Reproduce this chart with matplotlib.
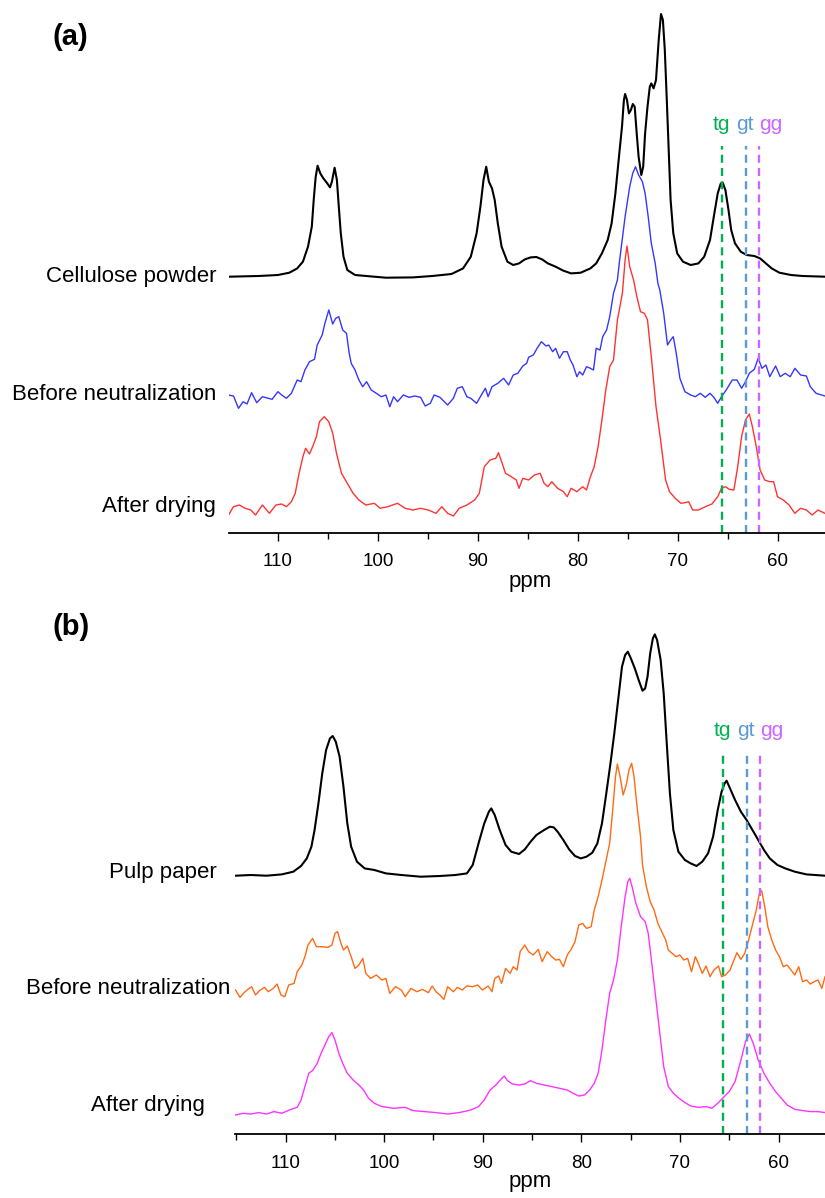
import matplotlib
matplotlib.use("Agg")
import matplotlib.pyplot as plt
from matplotlib.ticker import MultipleLocator

plt.rcParams['font.family'] = ['Liberation Sans', 'DejaVu Sans']

# ---------------- data: (ppm, intensity) ----------------
a_cellulose_powder = [(114.95, 0), (111.94, 0.7), (110.01, 1.7), (108.86, 4), (108.08, 8.3), (107.51, 15), (107.0, 30), (106.62, 50), (106.43, 76.7), (106.23, 100),
    (106.04, 111), (105.77, 103.3), (105.46, 98.3), (105.07, 93.3), (104.80, 89.3), (104.61, 95), (104.34, 109), (104.11, 96.7), (103.92, 70), (103.72, 43.3),
    (103.45, 20), (103.07, 6.7), (102.30, 1.7), (100.37, 0), (99.21, -1), (96.51, -0.7), (94.58, 0.7), (92.65, 2.7), (91.49, 8.3), (90.72, 20),
    (90.14, 43.3), (89.76, 70), (89.45, 96.7), (89.18, 110), (88.91, 95), (88.60, 88.3), (88.33, 76.7), (88.02, 53.3), (87.64, 30), (87.06, 15),
    (86.48, 11.7), (85.90, 13.3), (85.32, 17.3), (84.74, 19.3), (84.16, 19.7), (83.59, 17.3), (83.01, 13.3), (82.24, 10), (81.46, 6), (80.69, 3.3),
    (79.73, 4), (78.76, 8.3), (78.18, 13.3), (77.61, 23.3), (77.03, 36.7), (76.64, 53.3), (76.26, 83.3), (75.87, 123.3), (75.60, 150), (75.41, 176.7),
    (75.29, 182.7), (75.10, 176.7), (74.91, 163.3), (74.71, 166.7), (74.52, 172.7), (74.33, 170), (74.13, 143.3), (73.94, 120), (73.67, 101.7), (73.48, 110),
    (73.29, 143.3), (73.05, 170), (72.82, 190), (72.67, 193.3), (72.44, 188.3), (72.20, 196.7), (71.93, 236.7), (71.70, 262.7), (71.51, 256.7), (71.32, 226.7),
    (71.12, 176.7), (70.93, 126.7), (70.74, 76.7), (70.47, 43.3), (70.08, 23.3), (69.50, 15), (68.73, 11.7), (67.96, 13.3), (67.38, 20), (66.80, 36.7),
    (66.42, 60), (66.03, 83.3), (65.72, 93.3), (65.53, 94), (65.26, 86.7), (64.95, 66.7), (64.68, 46.7), (64.30, 33.3), (63.72, 25), (63.14, 21.7),
    (62.37, 20.7), (61.79, 18.3), (61.21, 13.3), (60.63, 8.3), (59.86, 4), (58.70, 1.7), (57.54, 0.7), (55.31, 0)]

a_before_neutralization = [(114.95, 2), (114.45, 1), (113.95, -11.3), (113.49, -4.7), (113.10, -7), (112.64, 4.3), (112.13, -5.7), (111.56, 0.3), (110.98, -1.3), (110.59, -2.3),
    (110.01, 5.3), (109.63, 2), (109.16, -1.3), (108.66, 3.7), (108.08, 17), (107.70, 15.3), (107.31, 27), (106.85, 35.3), (106.35, 37.7), (106.08, 52),
    (105.58, 62), (105.31, 73.7), (104.92, 87), (104.53, 73), (104.23, 78.7), (103.92, 80.3), (103.53, 67), (103.15, 63.7), (102.88, 43.7), (102.68, 33.7),
    (102.30, 27), (101.91, 17), (101.53, 10.3), (101.14, 15.3), (100.68, 7), (100.17, 3.7), (99.67, 0.3), (99.21, 2), (98.82, -9.7), (98.44, 0.3),
    (98.05, -4.7), (97.47, 2), (96.90, -0.3), (96.32, 1), (95.74, -0.3), (95.28, -9), (94.77, -6.3), (94.39, 2), (93.81, -0.3), (93.04, -8),
    (92.46, -1.3), (92.07, 8.7), (91.57, 10.3), (91.11, 0.3), (90.72, -1.3), (90.14, -6.3), (89.57, 3.7), (89.26, 8.7), (88.99, 0.3), (88.60, 10.3),
    (88.02, 13.7), (87.44, 18.7), (86.94, 12), (86.48, 22), (86.02, 23.7), (85.52, 31), (85.13, 33.7), (84.94, 39.7), (84.47, 42), (84.09, 48.7),
    (83.66, 55.3), (83.20, 51), (82.93, 52), (82.54, 45.3), (82.24, 48.7), (81.85, 38.7), (81.46, 45.3), (81.08, 45.3), (80.77, 37), (80.50, 32),
    (80.11, 20.3), (79.84, 25.3), (79.53, 22), (79.15, 30.3), (78.76, 28.7), (78.45, 27), (78.18, 48.7), (77.80, 47), (77.53, 60.3), (77.14, 67),
    (76.83, 80.3), (76.53, 98.7), (76.45, 103.7), (76.06, 117), (75.87, 134), (75.29, 180.3), (74.83, 210.3), (74.52, 224), (74.25, 230.3), (73.94, 222),
    (73.56, 215.3), (73.29, 203.7), (72.98, 180.3), (72.67, 153.7), (72.28, 133.7), (72.01, 113.7), (71.82, 107), (71.43, 83.7), (71.05, 52), (70.74, 57),
    (70.47, 60.3), (70.20, 45.3), (69.81, 18.7), (69.31, 5.3), (68.73, 2), (68.27, 0.3), (67.77, 3.7), (67.27, -0.3), (66.80, 3.7), (66.42, -0.3),
    (66.03, -6.3), (65.65, 0.3), (65.18, 7), (64.57, 17), (64.10, 17), (63.64, 8.7), (63.25, 15.3), (62.87, 23.7), (62.37, 27.7), (61.98, 38.7),
    (61.60, 28.7), (61.21, 32), (60.82, 20.3), (60.24, 31), (59.78, 20.3), (59.28, 23.7), (58.78, 20.3), (58.31, 28.7), (57.74, 22), (57.16, 21),
    (56.77, 10.3), (56.19, 3.7), (55.31, 1)]

a_after_drying = [(114.95, -7), (114.45, 1.3), (113.87, 3), (113.29, -0.3), (112.71, -2), (112.25, -7), (111.56, 3), (110.86, -5.3), (110.21, 3), (109.63, 4),
    (109.16, 1.3), (108.66, 6.3), (108.28, 14.7), (107.89, 34.7), (107.51, 51.3), (107.24, 59.7), (106.85, 54), (106.54, 61.3), (106.16, 71.3), (105.85, 86.3),
    (105.38, 91.3), (104.92, 86.3), (104.53, 74.7), (104.15, 54.7), (103.65, 34.7), (103.07, 24.7), (102.49, 14.7), (101.91, 8), (101.22, 3), (100.37, 4.7),
    (99.79, -0.3), (99.02, 1.3), (98.05, 4.7), (97.28, -0.3), (96.51, -2), (95.74, -0.3), (94.97, -2), (94.20, -5.3), (93.62, 1.3), (93.04, -5.3),
    (92.46, -8), (91.88, -0.3), (91.11, 3), (90.34, 8), (89.87, 14.7), (89.37, 41.3), (88.79, 48), (88.22, 49.7), (87.95, 55.3), (87.64, 46.3),
    (87.25, 34.7), (86.67, 31.3), (86.17, 28), (85.90, 19.7), (85.52, 29.7), (84.94, 28), (84.36, 33), (83.78, 34.7), (83.39, 24.7), (83.01, 21.3),
    (82.62, 26.3), (82.04, 19.7), (81.46, 16.3), (81.08, 11.3), (80.69, 19.7), (80.11, 16.3), (79.53, 21.3), (79.15, 18), (78.76, 31.3), (78.38, 41.3),
    (77.99, 61.3), (77.61, 88), (77.22, 118), (76.83, 141.3), (76.45, 148), (76.06, 188), (75.56, 214.7), (75.29, 248), (75.10, 262), (74.83, 241.3),
    (74.44, 228), (74.13, 212), (73.75, 196.3), (73.36, 194.7), (73.05, 188), (72.67, 151.3), (72.20, 101.3), (71.74, 68), (71.24, 28), (70.85, 16.3),
    (70.28, 9.7), (69.70, 4.7), (69.31, 5.3), (68.93, 6.3), (68.54, -2), (67.96, -2), (67.27, 1.3), (66.61, 4), (66.03, 11.3), (65.65, 19.7),
    (65.26, 21.3), (64.87, 18.7), (64.41, 18), (64.03, 41.3), (63.64, 71.3), (63.25, 88), (62.87, 94), (62.56, 81.3), (62.17, 61.3), (61.79, 38),
    (61.33, 28), (60.82, 26.3), (60.44, 26.3), (60.05, 11.3), (59.47, 8), (58.89, 3), (58.32, -5.3), (57.74, -0.3), (57.16, -2), (56.58, -7),
    (56.00, -2), (55.31, -5.3)]

b_pulp_paper = [(115.08, 0), (113.52, 0.7), (111.95, 0), (110.39, 1.3), (109.22, 4), (108.43, 9.7), (107.85, 17.3), (107.38, 29), (107.06, 45.7), (106.67, 72.3),
    (106.28, 102.3), (105.89, 125.7), (105.50, 137.3), (105.22, 139.7), (104.91, 134), (104.52, 119), (104.13, 89), (103.74, 52.3), (103.35, 29), (102.76, 14),
    (101.98, 7.3), (101.0, 5.7), (99.82, 2.3), (98.26, 0.7), (96.30, -1), (94.35, -0.3), (92.78, 0.7), (91.61, 2.3), (91.02, 10.7), (90.43, 32.3),
    (89.85, 52.3), (89.38, 64), (89.14, 67.3), (88.79, 60.7), (88.28, 45.7), (87.69, 30.7), (87.11, 24), (86.32, 21.7), (85.74, 26.3), (85.15, 34),
    (84.56, 40.7), (83.78, 45.7), (83.19, 49), (82.80, 48.3), (82.41, 44), (81.83, 35.7), (81.24, 26.3), (80.65, 19.7), (80.06, 17.3), (79.48, 19),
    (78.89, 23), (78.38, 32.3), (77.91, 52.3), (77.52, 79), (77.05, 112.3), (76.66, 142.3), (76.27, 175.7), (75.88, 209), (75.56, 220.7), (75.29, 224),
    (74.98, 217.3), (74.58, 207.3), (74.19, 195.7), (73.80, 185), (73.53, 187.3), (73.29, 199), (73.02, 222.3), (72.75, 237.3), (72.55, 241.3), (72.32, 235.7),
    (71.96, 215.7), (71.65, 182.3), (71.34, 132.3), (71.02, 82.3), (70.67, 45.7), (70.16, 24), (69.50, 15.7), (68.91, 12.3), (68.32, 9.7), (67.74, 14),
    (67.15, 22.3), (66.64, 39), (66.17, 65.7), (65.78, 84), (65.47, 92.3), (65.27, 95), (65.00, 89), (64.41, 75.7), (63.82, 64), (63.24, 55.7),
    (62.65, 45.7), (62.06, 35.7), (61.48, 25.7), (60.89, 17.3), (60.11, 10.7), (59.32, 7.3), (58.35, 4), (57.17, 1.3), (55.29, 0)]

b_before_neutralization = [(115.08, 1.7), (114.62, -5.7), (114.22, -1), (113.83, 2.3), (113.44, 5), (113.05, -3.3), (112.66, 1), (112.15, 4.3), (111.76, 0), (111.25, 3.3),
    (110.86, 7.7), (110.47, -3.3), (110.08, -5), (109.68, 6.7), (109.14, 8.3), (108.82, 20), (108.35, 26.7), (108.04, 35), (107.73, 46.7), (107.26, 53.3),
    (106.87, 45), (106.28, 45), (105.69, 44.3), (105.30, 46.7), (104.99, 58.3), (104.72, 60), (104.44, 50), (104.13, 41.7), (103.74, 45.7), (103.35, 35),
    (102.96, 23.3), (102.56, 26.7), (102.17, 33.3), (101.86, 18.3), (101.39, 13.3), (100.80, 16.7), (100.22, 11.7), (99.83, 13.3), (99.43, -1.7), (98.85, 5),
    (98.26, 1.7), (97.87, -5), (97.28, 3.3), (96.69, 0), (96.11, 2.3), (95.52, -1), (95.13, 5.7), (94.74, 0), (94.35, -3.3), (93.95, -7.7),
    (93.56, 5), (92.98, 0), (92.58, 4.3), (92.08, 1.7), (91.61, 5.7), (91.02, 5), (90.51, 6.7), (90.04, 1.7), (89.45, 5.7), (89.06, 0),
    (88.79, 13.3), (88.40, 15.7), (88.09, 8.3), (87.69, 23.3), (87.22, 18.3), (86.91, 25), (86.52, 21.7), (86.21, 40), (85.74, 46.7), (85.35, 40),
    (84.88, 36.7), (84.37, 42.3), (83.98, 30), (83.47, 40), (83.00, 35), (82.61, 31.7), (82.22, 32.3), (81.83, 25), (81.43, 36.7), (81.04, 42.3),
    (80.65, 50), (80.26, 66.7), (79.87, 68.3), (79.48, 63.3), (79.01, 65), (78.69, 81.7), (78.30, 95), (77.91, 111.7), (77.52, 130), (77.13, 148.4),
    (76.82, 181.7), (76.54, 215), (76.35, 227.7), (76.07, 215), (75.76, 196.7), (75.45, 206.7), (75.17, 221.7), (74.90, 228.4), (74.66, 215), (74.39, 188.4),
    (74.00, 155), (73.80, 126.7), (73.41, 105), (73.02, 90), (72.63, 81.7), (72.24, 68.3), (71.85, 60), (71.45, 51.7), (71.18, 41.7), (70.79, 38.3),
    (70.40, 35), (70.01, 36.7), (69.61, 31.7), (69.22, 33.3), (68.83, 20), (68.44, 35), (68.13, 28.3), (67.74, 18.3), (67.35, 25.7), (66.95, 15),
    (66.56, 21.7), (66.09, 25.7), (65.78, 15), (65.39, 16.7), (64.92, 21.7), (64.53, 31.7), (64.22, 39), (63.82, 32.3), (63.43, 38.3), (63.04, 51.7),
    (62.65, 66.7), (62.26, 81.7), (61.95, 98.3), (61.71, 101), (61.40, 85), (61.09, 65), (60.69, 51.7), (60.30, 41.7), (59.91, 35), (59.52, 25),
    (59.13, 26.7), (58.74, 21.7), (58.35, 16.7), (57.96, 25), (57.56, 10), (57.17, 11.7), (56.78, 7.7), (56.39, 10), (56.00, 11.7), (55.61, 3.3),
    (55.29, 15)]

b_after_drying = [(115.08, -1.7), (114.30, 0), (113.52, -0.7), (112.74, 0.7), (111.95, -0.7), (111.17, 1.7), (110.39, 0), (109.61, 3.3), (108.82, 6), (108.43, 13.3),
    (108.04, 26.7), (107.65, 40), (107.26, 42.7), (106.79, 50), (106.40, 60), (106.01, 68.3), (105.62, 76.7), (105.30, 80.7), (104.99, 73.3), (104.60, 60),
    (104.21, 50), (103.74, 40), (103.15, 33.3), (102.56, 28.3), (102.09, 23.3), (101.58, 15), (101.0, 10), (100.22, 6.7), (99.04, 5), (97.87, 6),
    (97.08, 2.7), (95.91, 1.7), (94.74, 0.7), (93.56, -0.7), (92.39, 0.7), (91.22, 3.3), (90.43, 6.7), (89.85, 13.3), (89.26, 23.3), (88.67, 28.3),
    (88.16, 34), (87.81, 37.3), (87.50, 32.7), (86.99, 29.3), (86.32, 28.3), (85.74, 29.3), (85.15, 32.7), (84.56, 30), (83.78, 28.3), (83.00, 26.7),
    (82.22, 25), (81.43, 23.3), (80.85, 20), (80.26, 17.3), (79.67, 18.3), (79.16, 23.3), (78.69, 30), (78.30, 40), (77.91, 63.3), (77.52, 93.3),
    (77.13, 120), (76.74, 133.3), (76.35, 153.3), (75.96, 186.7), (75.56, 216.7), (75.29, 231.7), (75.09, 235), (74.86, 226.7), (74.47, 210), (74.00, 196.7),
    (73.53, 191.7), (73.22, 180), (72.90, 153.3), (72.51, 120), (72.12, 86.7), (71.65, 46.7), (71.18, 26.7), (70.67, 20), (70.09, 15), (69.50, 10.7),
    (68.91, 7.3), (68.13, 6), (67.35, 6.7), (66.76, 5), (66.17, 10), (65.58, 16), (65.00, 21.7), (64.41, 31.7), (63.82, 53.3), (63.35, 71.7),
    (62.96, 79.3), (62.57, 70), (62.06, 53.3), (61.48, 40), (60.89, 30), (60.30, 21.7), (59.72, 15), (59.13, 8.3), (58.35, 4), (57.56, 2.7),
    (56.78, 1.7), (56.00, 1.7), (55.29, 0.7)]

labels_a = ["Cellulose powder", "Before neutralization", "After drying"]
labels_b = ["Pulp paper", "Before neutralization", "After drying"]
conformer_names = ["tg", "gt", "gg"]
conformer_ppm = [65.6, 63.2, 61.9]
x_ticks = [110, 100, 90, 80, 70, 60]

# ---------------- layout / style ----------------
W, H = 825, 1198
fig = plt.figure(figsize=(W / 100, H / 100), dpi=100)


def box(x0, y0, x1, y1):
    return [x0 / W, 1 - y1 / H, (x1 - x0) / W, (y1 - y0) / H]


conf_colors = ["#00b050", "#5b9bd5", "#cc66ff"]
conf_label_dx = [0.05, 0.15, -1.2]

panels = [
    dict(rect=(228.5, 5, 825, 532.5), xlim=(114.95, 55.3),
         series=[a_cellulose_powder, a_before_neutralization, a_after_drying],
         colors=["black", "#3636ff", "#ff3333"], lws=[1.5, 1.0, 1.0],
         offsets=[255.8, 135.5, 24.5], labels=labels_a,
         label_y=[276.7, 394, 506.7], label_x=[217, 216, 216],
         dash_top=386.5, conf_label_y=407.5, tag="(a)", tag_y=37, ppm_y=581),
    dict(rect=(235.4, 605, 825, 1134), xlim=(115.09, 55.29),
         series=[b_pulp_paper, b_before_neutralization, b_after_drying],
         colors=["black", "#ff6a13", "#ff33ff"], lws=[1.5, 1.0, 1.0],
         offsets=[258.3, 142.3, 20.7], labels=labels_b,
         label_y=[872.7, 988.3, 1105], label_x=[217, 230, 205],
         dash_top=381, conf_label_y=404, tag="(b)", tag_y=627, ppm_y=1182),
]

for p in panels:
    x0, y0, x1, y1 = p["rect"]
    ax = fig.add_axes(box(x0, y0, x1, y1))
    ax.set_xlim(*p["xlim"])
    ax.set_ylim(0, y1 - y0)
    for data, c, lw, off in zip(p["series"], p["colors"], p["lws"], p["offsets"]):
        xs = [d[0] for d in data]
        ys = [off + d[1] for d in data]
        ax.plot(xs, ys, color=c, lw=lw, solid_joinstyle="round")
    for name, ppm, c, dx in zip(conformer_names, conformer_ppm, conf_colors, conf_label_dx):
        ax.plot([ppm, ppm], [0, p["dash_top"]], color=c, lw=1.7, dashes=(3.4, 2.2))
        ax.text(ppm + dx, p["conf_label_y"], name, color=c, fontsize=15,
                ha="center", va="center")
    for s in ["left", "right", "top"]:
        ax.spines[s].set_visible(False)
    ax.spines["bottom"].set_linewidth(1.3)
    ax.set_yticks([])
    ax.set_xticks(x_ticks)
    ax.xaxis.set_minor_locator(MultipleLocator(5))
    ax.tick_params(axis="x", which="major", direction="out", length=5.5, width=1.0,
                   labelsize=13.5, pad=9.5)
    ax.tick_params(axis="x", which="minor", direction="out", length=4, width=1.0)
    ax.patch.set_alpha(0)
    for lab, lx, ly in zip(p["labels"], p["label_x"], p["label_y"]):
        fig.text(lx / W, 1 - ly / H, lab, fontsize=16, ha="right", va="center")
    fig.text(53 / W, 1 - p["tag_y"] / H, p["tag"], fontsize=21, fontweight="bold",
             ha="left", va="center")
    fig.text(530 / W, 1 - p["ppm_y"] / H, "ppm", fontsize=16, ha="center", va="center")

fig.savefig("out.png", dpi=100)
